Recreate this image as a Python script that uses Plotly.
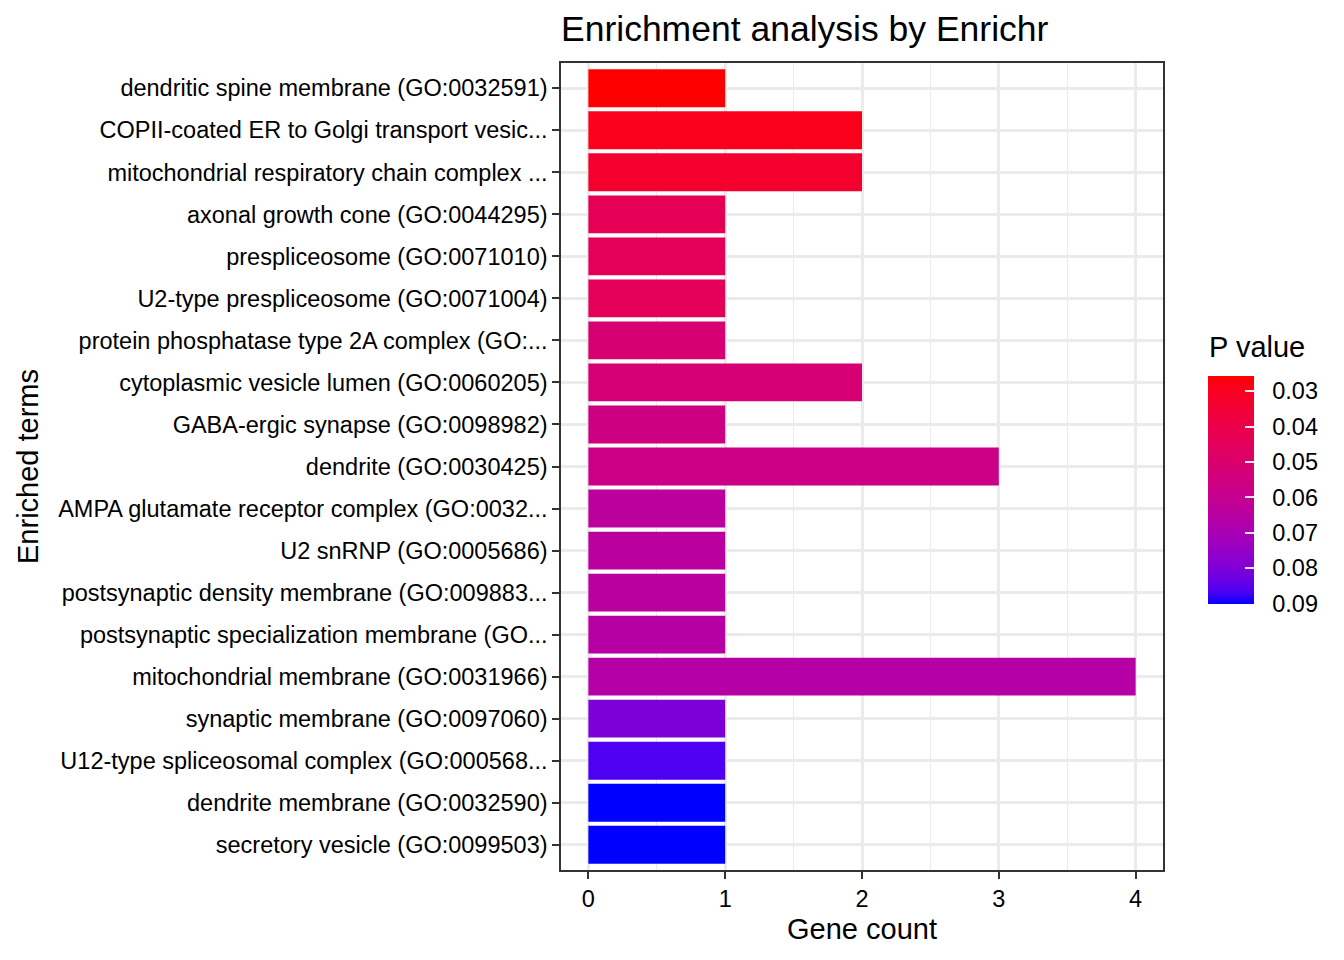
import plotly.graph_objects as go

# ---------------- data ----------------
terms = [
    "dendritic spine membrane (GO:0032591)",
    "COPII-coated ER to Golgi transport vesic...",
    "mitochondrial respiratory chain complex ...",
    "axonal growth cone (GO:0044295)",
    "prespliceosome (GO:0071010)",
    "U2-type prespliceosome (GO:0071004)",
    "protein phosphatase type 2A complex (GO:...",
    "cytoplasmic vesicle lumen (GO:0060205)",
    "GABA-ergic synapse (GO:0098982)",
    "dendrite (GO:0030425)",
    "AMPA glutamate receptor complex (GO:0032...",
    "U2 snRNP (GO:0005686)",
    "postsynaptic density membrane (GO:009883...",
    "postsynaptic specialization membrane (GO...",
    "mitochondrial membrane (GO:0031966)",
    "synaptic membrane (GO:0097060)",
    "U12-type spliceosomal complex (GO:000568...",
    "dendrite membrane (GO:0032590)",
    "secretory vesicle (GO:0099503)",
]
gene_counts = [1, 2, 2, 1, 1, 1, 1, 2, 1, 3, 1, 1, 1, 1, 4, 1, 1, 1, 1]
p_values = [0.0257, 0.0290, 0.0335, 0.0432, 0.0445, 0.0445, 0.0515, 0.0520,
            0.0560, 0.0572, 0.0637, 0.0642, 0.0642, 0.0655, 0.0661, 0.0802,
            0.0866, 0.0901, 0.0901]
legend_ticks = [0.03, 0.04, 0.05, 0.06, 0.07, 0.08, 0.09]
x_ticks = [0, 1, 2, 3, 4]

# ------------- colour ramp (CIELAB, like ggplot2) -------------
def _lin(c):
    c = c / 255.0
    return c / 12.92 if c <= 0.04045 else ((c + 0.055) / 1.055) ** 2.4

def _srgb(c):
    c = max(0.0, min(1.0, c))
    v = 12.92 * c if c <= 0.0031308 else 1.055 * c ** (1 / 2.4) - 0.055
    return int(round(v * 255))

def rgb_to_lab(rgb):
    r, g, b = (_lin(v) for v in rgb)
    X = (0.4124 * r + 0.3576 * g + 0.1805 * b) / 0.95047
    Y = 0.2126 * r + 0.7152 * g + 0.0722 * b
    Z = (0.0193 * r + 0.1192 * g + 0.9505 * b) / 1.08883
    f = lambda t: t ** (1 / 3) if t > 0.008856 else 7.787 * t + 16 / 116
    fx, fy, fz = f(X), f(Y), f(Z)
    return (116 * fy - 16, 500 * (fx - fy), 200 * (fy - fz))

def lab_to_rgb(lab):
    L, a, b = lab
    fy = (L + 16) / 116
    fx = fy + a / 500
    fz = fy - b / 200
    finv = lambda t: t ** 3 if t ** 3 > 0.008856 else (t - 16 / 116) / 7.787
    X, Y, Z = finv(fx) * 0.95047, finv(fy), finv(fz) * 1.08883
    r = 3.2406 * X - 1.5372 * Y - 0.4986 * Z
    g = -0.9689 * X + 1.8758 * Y + 0.0415 * Z
    bb = 0.0557 * X - 0.2040 * Y + 1.0570 * Z
    return "rgb(%d,%d,%d)" % (_srgb(r), _srgb(g), _srgb(bb))

lab_low = rgb_to_lab((255, 0, 0))    # low p -> red
lab_high = rgb_to_lab((0, 0, 255))   # high p -> blue
colorscale = []
n = 20
for i in range(n + 1):
    s = i / n                  # s over negated p: 0 = highest p (blue)
    t = 1 - s
    lab = tuple(lab_low[k] + (lab_high[k] - lab_low[k]) * t for k in range(3))
    colorscale.append([s, lab_to_rgb(lab)])

neg_p = [-p for p in p_values]

FONT = "Liberation Sans, Arial, Helvetica, sans-serif"
NB = "\u00a0"

# page geometry (page shows the figure with an 8px offset)
W, H = 1336, 952
ML, MR, MT, MB = 553, 181, 55, 90
PW = W - ML - MR
PH = H - MT - MB

fig = go.Figure()
fig.add_trace(go.Bar(
    x=gene_counts,
    y=terms,
    orientation="h",
    marker=dict(
        color=neg_p,
        colorscale=colorscale,
        cmin=-max(p_values),
        cmax=-min(p_values),
        line=dict(width=0),
        colorbar=dict(
            tickvals=[-v for v in legend_ticks],
            ticktext=[NB + NB + "%.2f" % v for v in legend_ticks],
            tickfont=dict(size=23.5, color="#000000", family=FONT),
            ticks="inside",
            ticklen=9,
            tickwidth=2,
            tickcolor="rgba(255,255,255,0.9)",
            thickness=46,
            thicknessmode="pixels",
            len=228,
            lenmode="pixels",
            xref="paper",
            x=(1200 - ML) / PW,
            xanchor="left",
            xpad=0,
            yref="paper",
            y=(H - MB - 482) / PH,
            yanchor="middle",
            ypad=0,
            outlinewidth=0,
        ),
    ),
    hoverinfo="x+y",
    showlegend=False,
))

fig.update_layout(
    width=W,
    height=H,
    margin=dict(l=ML, r=MR, t=MT, b=MB, autoexpand=False),
    paper_bgcolor="white",
    plot_bgcolor="white",
    bargap=0.1,
    font=dict(family=FONT, color="#000000"),
    title=dict(
        text="Enrichment analysis by Enrichr",
        font=dict(size=35.5, color="#000000", family=FONT),
        xref="paper", x=0, xanchor="left",
        yref="container", y=1 - 21 / H, yanchor="middle",
    ),
    annotations=[dict(
        text="P value", showarrow=False,
        xref="paper", x=(1199 - ML) / PW, xanchor="left",
        yref="paper", y=(H - MB - 339) / PH, yanchor="middle",
        font=dict(size=29, color="#000000", family=FONT),
    )],
)

fig.update_xaxes(
    range=[-0.2, 4.2],
    tickvals=x_ticks,
    ticks="outside", ticklen=7, tickwidth=2, tickcolor="#333333",
    tickfont=dict(size=23.5, color="#000000", family=FONT),
    showgrid=True, gridcolor="#EBEBEB", gridwidth=2.5,
    minor=dict(dtick=0.5, showgrid=True, gridcolor="#EBEBEB", gridwidth=1.3),
    zeroline=False,
    showline=True, linecolor="#333333", linewidth=1.5, mirror=True,
    title=dict(text="Gene count", font=dict(size=29, color="#000000", family=FONT),
               standoff=8),
    automargin=False,
)
fig.update_yaxes(
    type="category",
    categoryorder="array",
    categoryarray=terms[::-1],
    range=[-0.6, len(terms) - 0.4],
    ticks="outside", ticklen=7, tickwidth=2, tickcolor="#333333",
    tickfont=dict(size=23.5, color="#000000", family=FONT),
    showgrid=True, gridcolor="#EBEBEB", gridwidth=2.5,
    zeroline=False,
    showline=True, linecolor="#333333", linewidth=1.5, mirror=True,
    title=dict(text="Enriched terms", font=dict(size=29, color="#000000", family=FONT),
               standoff=11),
    automargin=False,
)

fig.write_html("out.html")
